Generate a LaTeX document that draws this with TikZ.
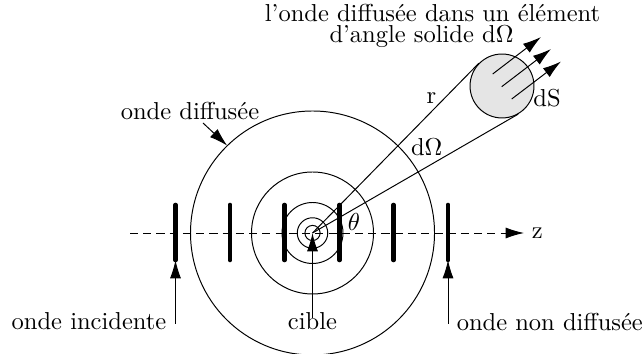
\documentclass[tikz,border=0pt]{standalone}
\usetikzlibrary{arrows.meta,calc}
\begin{document}
\begin{tikzpicture}[x=0.408pt,y=-0.408pt,
  ln/.style={line width=0.4pt},
  wavebar/.style={line width=1.9pt,line cap=round},
  arr/.style={-{Latex[length=7.5pt,width=4.5pt]}},
  axisline/.style={dash pattern=on 3.3pt off 2.1pt},
  txt/.style={inner sep=0pt,outer sep=0pt,anchor=base}]
\useasboundingbox (0,0) rectangle (644,354);
% centre
\coordinate (O) at (312.5,233);
% circles
\foreach \r in {7.6,15.25,30.5,61,122} \draw[ln] (O) circle[radius=\r];
% wave fronts
\foreach[count=\i] \x in {175.5,230,284.5,339.5,393.5,448} {
  \coordinate (bt\i) at (\x,205);
  \coordinate (bb\i) at (\x,260);
  \draw[wavebar] (bt\i) -- (bb\i);
}
% axis
\coordinate (zs) at (130,233);
\node[anchor=west,inner sep=3pt] (z) at (524,233) {z};
\draw[ln,axisline,arr] (zs) -- (z.west);
% element dS
\node[circle,draw,ln,fill=black!10,minimum size=26.1pt,inner sep=0pt] (ds) at (502,86) {};
\draw[ln] (O) -- (tangent cs:node=ds,point={(O)},solution=1);
\draw[ln] (O) -- (tangent cs:node=ds,point={(O)},solution=2);
\foreach \i/\sx/\sy/\ex/\ey in {1/492.7/74/541/37,2/501.7/86.7/551/49,3/511.7/99/561/61.5} {
  \coordinate (as\i) at (\sx,\sy);
  \coordinate (ae\i) at (\ex,\ey);
  \draw[ln,arr] (as\i) -- (ae\i);
}
% labels
\node[txt] (r) at (431.5,104) {r};
\node[txt] (dom) at (426.7,156) {d$\Omega$};
\node[txt] (dsl) at (547,107) {dS};
\node[txt] (th) at (354,231) {$\theta$};
\node[txt] (top1) at (432.5,21.7) {l'onde diffusée dans un élément};
\node[txt] (top2) at (421.5,42.7) {d'angle solide d$\Omega$};
\node[txt] (odif) at (190,120) {onde diffusée};
\node[txt] (inc) at (89,330) {onde incidente};
\node[txt] (cib) at (312.5,330) {cible};
\node[txt] (nondif) at (549.8,331) {onde non diffusée};
% label arrows
\coordinate (odS) at (203,123);
\coordinate (odE) at (227.3,145.7);
\draw[ln,arr] (odS) -- (odE);
\coordinate (incS) at (175.5,324);
\draw[ln,arr] (incS) -- (bb1);
\coordinate (ndS) at (448,324);
\draw[ln,arr] (ndS) -- (bb6);
\draw[ln,arr] ([yshift=-2pt]cib.north) -- (O);
\end{tikzpicture}
\end{document}
